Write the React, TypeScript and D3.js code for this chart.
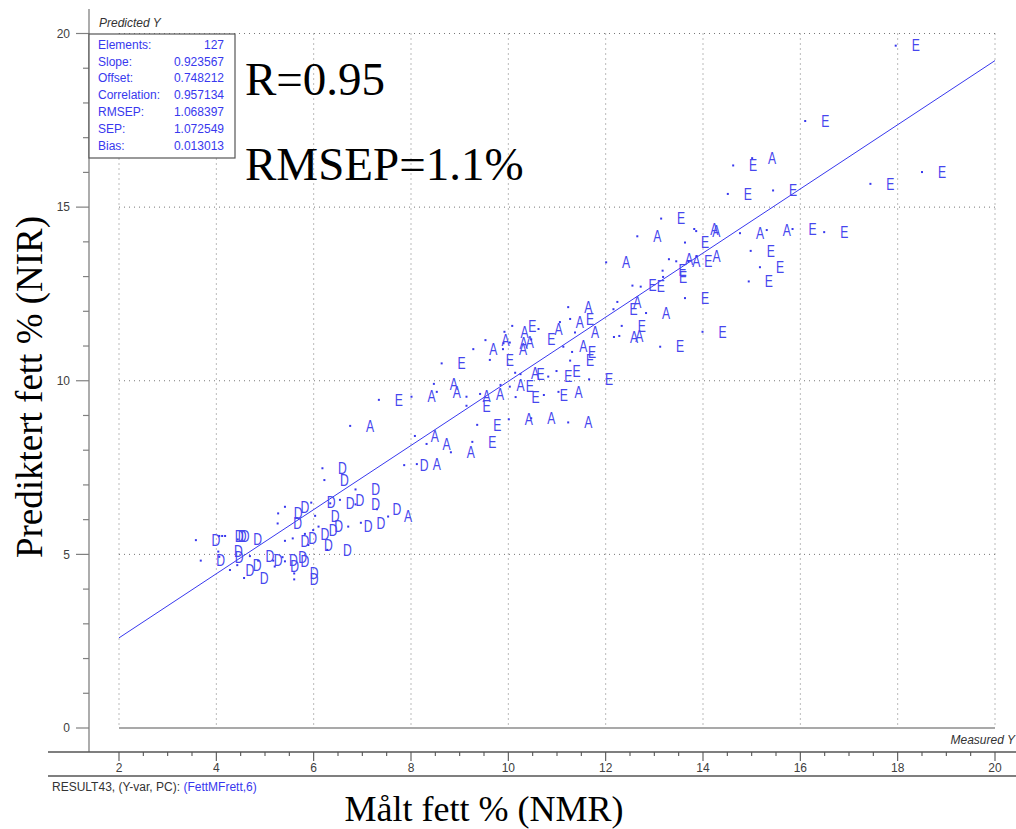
import React from "react";
import * as d3 from "d3";

// Measured (NMR) values of the samples
const measuredY = [
  17.96, 16.10, 15.01, 14.62, 14.51, 15.44, 17.44, 18.50, 13.82, 13.86,
  14.76, 15.31, 15.84, 16.49, 14.98, 15.17, 14.94, 13.63, 13.14, 12.65,
  12.01, 13.30, 13.45, 13.70, 13.87, 13.17, 13.18, 12.55, 12.72, 13.63,
  12.24, 12.16, 12.83, 12.33, 12.17, 12.28, 13.99, 13.12, 11.23, 11.06,
  11.27, 11.37, 11.13, 11.31, 11.27, 10.99, 10.82, 11.66, 10.73, 11.03,
  11.23, 10.08, 10.62, 9.53, 9.92, 9.90, 10.03, 9.89, 9.28, 10.47,
  9.62, 8.63, 10.14, 10.25, 9.84, 10.03, 10.15, 8.47, 8.53, 8.01,
  7.34, 9.14, 9.42, 9.14, 9.36, 10.01, 10.47, 6.75, 9.26, 8.08,
  8.32, 8.82, 8.12, 7.86, 6.18, 6.22, 7.53, 7.30, 6.97, 6.71,
  6.86, 6.86, 6.54, 6.34, 5.95, 6.03, 6.10, 5.99, 5.82, 5.89,
  6.28, 5.57, 5.41, 5.27, 5.26, 5.41, 4.44, 4.06, 4.12, 4.18,
  3.58, 3.68, 4.04, 4.06, 4.28, 4.43, 4.57, 4.69, 4.86, 5.17,
  5.20, 5.36, 5.41, 5.60, 5.60,
];

// Predicted (NIR) values of the samples
const predictedY = [
  19.65, 17.48, 16.41, 16.20, 15.38, 15.48, 15.67, 16.01, 14.37, 14.31,
  14.25, 14.34, 14.37, 14.28, 13.74, 13.27, 12.86, 13.98, 14.67, 14.16,
  13.41, 13.50, 13.44, 13.44, 13.59, 13.17, 12.99, 12.74, 12.71, 12.38,
  12.27, 12.06, 11.95, 11.58, 11.26, 11.29, 11.41, 10.98, 12.12, 11.69,
  11.78, 11.39, 10.98, 10.83, 10.58, 10.28, 10.12, 10.04, 9.59, 9.68,
  8.80, 11.58, 11.49, 11.17, 11.41, 11.08, 11.10, 10.91, 10.91, 11.19,
  10.60, 10.50, 10.23, 10.19, 9.88, 9.83, 9.53, 9.91, 9.68, 9.54,
  9.45, 9.54, 9.62, 9.28, 8.73, 8.89, 8.92, 8.70, 8.24, 8.41,
  8.18, 7.94, 7.60, 7.57, 7.48, 7.14, 6.09, 6.30, 5.91, 5.80,
  6.87, 6.44, 6.57, 6.47, 6.49, 6.11, 5.80, 5.70, 5.59, 5.27,
  5.13, 5.46, 5.39, 6.18, 5.89, 6.37, 5.43, 5.53, 5.53, 5.53,
  5.41, 4.82, 5.08, 4.93, 4.55, 4.69, 4.32, 4.95, 4.82, 4.82,
  4.65, 4.92, 4.80, 4.45, 4.28,
];

// Sample labels
const sampleLabels = [
  "E", "E", "A", "E", "E", "E", "E", "E", "A", "A",
  "A", "A", "E", "E", "E", "E", "E", "E", "E", "A",
  "A", "A", "A", "E", "A", "E", "E", "E", "E", "E",
  "A", "E", "A", "E", "A", "A", "E", "E", "A", "A",
  "E", "A", "A", "E", "E", "E", "E", "E", "E", "A",
  "A", "E", "A", "A", "A", "A", "A", "A", "A", "E",
  "E", "E", "A", "E", "A", "E", "E", "A", "A", "A",
  "E", "A", "A", "E", "E", "A", "A", "A", "E", "A",
  "A", "A", "A", "D", "D", "D", "A", "D", "D", "D",
  "D", "D", "D", "D", "D", "D", "D", "D", "D", "D",
  "D", "D", "D", "D", "D", "D", "D", "D", "D", "D",
  "D", "D", "D", "D", "D", "D", "D", "D", "D", "D",
  "D", "D", "D", "D", "D",
];

const statNames = ["Elements:", "Slope:", "Offset:", "Correlation:", "RMSEP:", "SEP:", "Bias:"];
const statValues = ["127", "0.923567", "0.748212", "0.957134", "1.068397", "1.072549", "0.013013"];
const regSlope = 0.923567;
const regOffset = 0.748212;

const xTicks = [2, 4, 6, 8, 10, 12, 14, 16, 18, 20];
const yTicks = [0, 5, 10, 15, 20];

const BLUE = "#3838ee";
const AXIS = "#808080";
const TXT = "#404040";
const SANS = "'Liberation Sans', Arial, sans-serif";
const SERIF = "'Liberation Serif', 'Times New Roman', serif";

export default function App() {
  const x = d3.scaleLinear().domain([2, 20]).range([119, 995]);
  const y = d3.scaleLinear().domain([0, 20]).range([728, 33.5]);

  const minorY = d3.range(0, 21, 1);
  const minorX = d3.range(2, 20.01, 0.5);

  const line = d3
    .line<number>()
    .x((d) => x(d))
    .y((d) => y(regOffset + regSlope * d));

  return (
    <svg
      width={1016}
      height={829}
      style={{ position: "absolute", left: 0, top: 0, background: "#fff" }}
    >
      <rect x={0} y={0} width={1016} height={829} fill="#fff" />

      {/* dotted grid */}
      {xTicks.map((t) => (
        <line
          key={"gx" + t}
          x1={x(t)}
          x2={x(t)}
          y1={y(20)}
          y2={y(0)}
          stroke="#777"
          strokeWidth={1}
          strokeDasharray="1 4"
        />
      ))}
      {yTicks
        .filter((t) => t > 0)
        .map((t) => (
          <line
            key={"gy" + t}
            x1={x(2)}
            x2={x(20)}
            y1={y(t)}
            y2={y(t)}
            stroke="#777"
            strokeWidth={1}
            strokeDasharray="1 4"
          />
        ))}
      {/* zero line */}
      <line x1={x(2)} x2={x(20)} y1={y(0)} y2={y(0)} stroke="#555" strokeWidth={1.2} />

      {/* y axis */}
      <line x1={89} x2={89} y1={9} y2={752} stroke={AXIS} strokeWidth={1.3} />
      {minorY.map((t) => (
        <line
          key={"ty" + t}
          x1={t % 5 === 0 ? 76 : 83}
          x2={89}
          y1={y(t)}
          y2={y(t)}
          stroke={AXIS}
          strokeWidth={1.2}
        />
      ))}
      {yTicks.map((t) => (
        <text
          key={"ly" + t}
          x={70}
          y={y(t)}
          dy="0.36em"
          textAnchor="end"
          fontFamily={SANS}
          fontSize={12}
          fill={TXT}
        >
          {t}
        </text>
      ))}
      <text x={99} y={23} dy="0.36em" fontFamily={SANS} fontSize={12} fontStyle="italic" fill="#333">
        Predicted Y
      </text>

      {/* x axis */}
      <line x1={48} x2={1016} y1={752} y2={752} stroke="#555" strokeWidth={1.3} />
      <line x1={48} x2={1016} y1={776} y2={776} stroke="#555" strokeWidth={1.3} />
      {minorX.map((t) => (
        <line
          key={"tx" + t}
          x1={x(t)}
          x2={x(t)}
          y1={752}
          y2={Number.isInteger(t) && t % 2 === 0 ? 761 : 756}
          stroke="#555"
          strokeWidth={1.1}
        />
      ))}
      {xTicks.map((t) => (
        <text
          key={"lx" + t}
          x={x(t)}
          y={768}
          dy="0.36em"
          textAnchor="middle"
          fontFamily={SANS}
          fontSize={12}
          fill={TXT}
        >
          {t}
        </text>
      ))}
      <text x={1015} y={740} dy="0.36em" textAnchor="end" fontFamily={SANS} fontSize={12} fontStyle="italic" fill="#333">
        Measured Y
      </text>
      <text x={52} y={787} dy="0.36em" fontFamily={SANS} fontSize={12} fill="#333">
        RESULT43, (Y-var, PC):{" "}
        <tspan fill={BLUE}>(FettMFrett,6)</tspan>
      </text>

      {/* regression line */}
      <path d={line([2, 20]) || ""} fill="none" stroke={BLUE} strokeWidth={1} />

      {/* samples */}
      {measuredY.map((m, i) => (
        <g key={"s" + i}>
          <rect x={x(m) - 1} y={y(predictedY[i]) - 1} width={2} height={2} fill={BLUE} />
          <text
            transform={`translate(${x(m) + 20},${y(predictedY[i])}) scale(0.76,1)`}
            dy="0.36em"
            textAnchor="middle"
            fontFamily={SANS}
            fontSize={16}
            fill="#4646ee"
          >
            {sampleLabels[i]}
          </text>
        </g>
      ))}

      {/* stats box */}
      <rect x={89} y={34} width={146} height={124} fill="#fff" stroke="#555" strokeWidth={1.2} />
      {statNames.map((n, i) => (
        <g key={"st" + i}>
          <text x={98} y={44.3 + i * 16.9} dy="0.36em" fontFamily={SANS} fontSize={12} fill={BLUE}>
            {n}
          </text>
          <text
            x={224}
            y={44.3 + i * 16.9}
            dy="0.36em"
            textAnchor="end"
            fontFamily={SANS}
            fontSize={12}
            fill={BLUE}
          >
            {statValues[i]}
          </text>
        </g>
      ))}

      {/* annotations */}
      <text x={245} y={95} fontFamily={SERIF} fontSize={47} fill="#000">
        R=0.95
      </text>
      <text x={245} y={180} fontFamily={SERIF} fontSize={47} fill="#000">
        RMSEP=1.1%
      </text>

      {/* axis titles */}
      <text
        transform="translate(41.5,387) rotate(-90)"
        textAnchor="middle"
        fontFamily={SERIF}
        fontSize={37}
        fill="#000"
      >
        Prediktert fett % (NIR)
      </text>
      <text x={484} y={821} textAnchor="middle" fontFamily={SERIF} fontSize={36} fill="#000">
        Målt fett % (NMR)
      </text>
    </svg>
  );
}
